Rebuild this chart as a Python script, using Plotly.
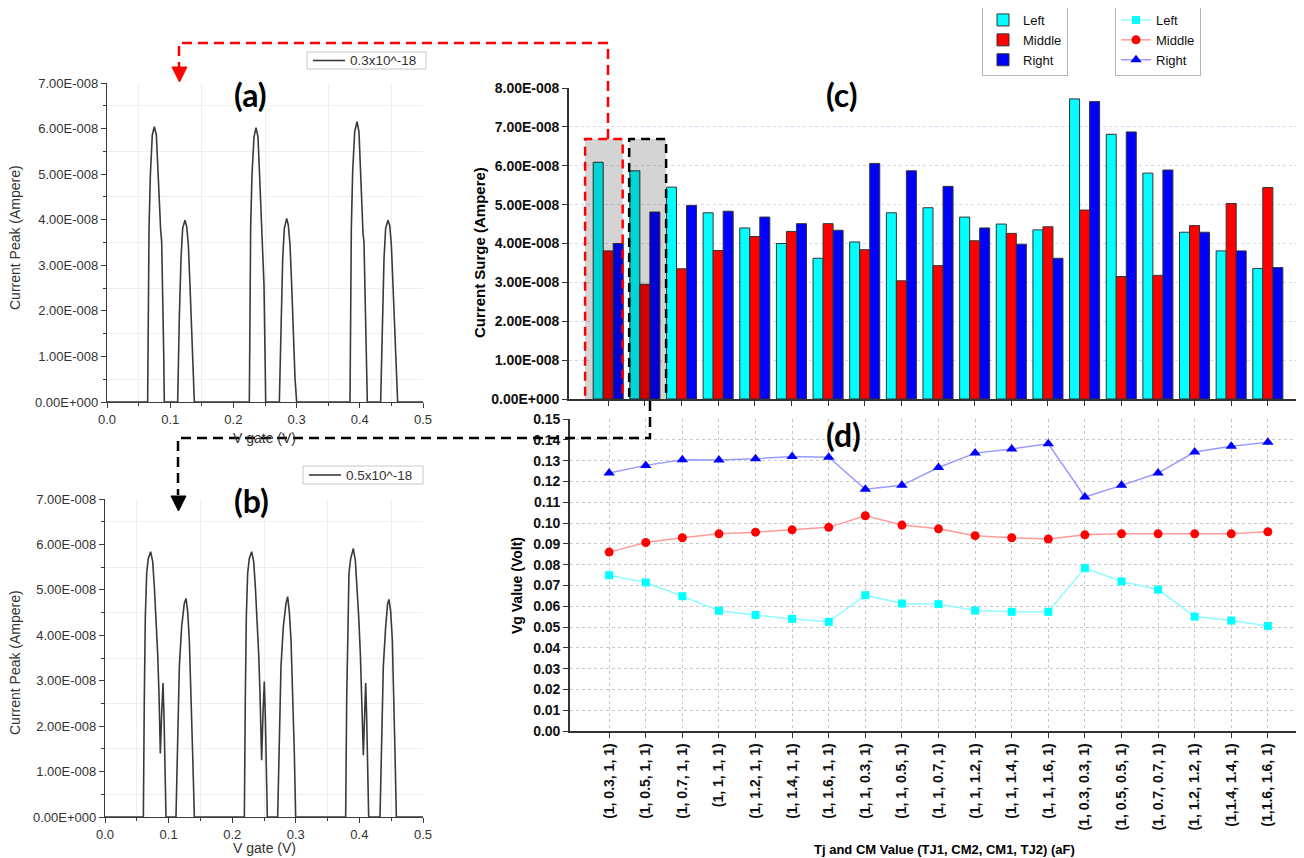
import plotly.graph_objects as go
import numpy as np

# the page body has an 8px margin; the figure is sized/placed so that it fills the 1304x858 window
OFF = 8
W, H = 1304 - OFF, 858 - OFF
def px(x): return (x - OFF) / W
def py(y): return 1 - (y - OFF) / H

# ---------------- data ----------------
# panel (a): V gate (V) vs current (units of 1e-8 A), TJ = 0.3x10^-18
a_vgate = [0.0, 0.0643, 0.0665, 0.0686, 0.0717, 0.0749, 0.0781, 0.0802, 0.0823, 0.0849, 0.0865, 0.0881, 0.0897, 0.0907,
           0.1118, 0.1144, 0.1171, 0.1197, 0.1234, 0.1261, 0.1287, 0.1313, 0.1340, 0.1366, 0.1382,
           0.2252, 0.2273, 0.2294, 0.2326, 0.2358, 0.2389, 0.2410, 0.2431, 0.2453, 0.2468, 0.2484, 0.2500, 0.2511,
           0.2727, 0.2753, 0.2780, 0.2806, 0.2843, 0.2869, 0.2896, 0.2922, 0.2948, 0.2975, 0.3001,
           0.3845, 0.3866, 0.3887, 0.3919, 0.3956, 0.3987, 0.4008, 0.4030, 0.4051, 0.4066, 0.4082, 0.4098, 0.4119,
           0.4330, 0.4357, 0.4383, 0.4409, 0.4446, 0.4473, 0.4499, 0.4525, 0.4552, 0.4578, 0.4599,
           0.5]
a_current_e8 = [0, 0, 3.81, 4.98, 5.86, 6.04, 5.86, 5.13, 4.40, 3.77, 3.52, 2.57, 1.10, 0,
                0, 1.84, 3.15, 3.81, 3.99, 3.85, 3.45, 2.57, 1.47, 0.52, 0,
                0, 3.81, 4.98, 5.82, 6.02, 5.82, 5.13, 4.40, 3.74, 3.52, 2.57, 1.10, 0,
                0, 1.84, 3.15, 3.81, 4.03, 3.88, 3.45, 2.57, 1.47, 0.52, 0,
                0, 3.81, 5.05, 5.93, 6.15, 5.93, 5.13, 4.40, 3.70, 3.52, 2.57, 1.10, 0,
                0, 1.84, 3.15, 3.81, 3.99, 3.88, 3.45, 2.57, 1.47, 0.52, 0,
                0]
a_label = "0.3x10^-18"

# panel (b): TJ = 0.5x10^-18
b_vgate = [0.0, 0.0603, 0.0618, 0.0634, 0.0655, 0.0681, 0.0718, 0.0750, 0.0776, 0.0802, 0.0828, 0.0849, 0.0870, 0.0891, 0.0912, 0.0928, 0.0943, 0.0959,
           0.1116, 0.1143, 0.1169, 0.1205, 0.1247, 0.1274, 0.1300, 0.1326, 0.1352, 0.1378, 0.1405,
           0.2191, 0.2206, 0.2222, 0.2243, 0.2269, 0.2306, 0.2338, 0.2364, 0.2390, 0.2416, 0.2437, 0.2463, 0.2484, 0.2505, 0.2521, 0.2537, 0.2552,
           0.2715, 0.2741, 0.2767, 0.2804, 0.2846, 0.2872, 0.2898, 0.2925, 0.2951, 0.2977, 0.2998,
           0.3784, 0.3800, 0.3816, 0.3836, 0.3863, 0.3905, 0.3936, 0.3962, 0.3989, 0.4015, 0.4036, 0.4062, 0.4083, 0.4099, 0.4114, 0.4130, 0.4146,
           0.4324, 0.4350, 0.4376, 0.4413, 0.4444, 0.4465, 0.4492, 0.4518, 0.4539, 0.4560, 0.4581,
           0.5]
b_current_e8 = [0, 0, 2.57, 4.41, 5.36, 5.69, 5.84, 5.62, 5.07, 4.41, 3.60, 2.72, 1.40, 2.28, 2.95, 2.20, 0.96, 0,
                0, 1.84, 3.31, 4.19, 4.70, 4.81, 4.52, 3.89, 2.86, 1.40, 0,
                0, 2.57, 4.41, 5.36, 5.69, 5.84, 5.62, 5.07, 4.41, 3.60, 2.72, 1.25, 2.28, 2.98, 2.20, 0.96, 0,
                0, 1.84, 3.31, 4.19, 4.70, 4.85, 4.52, 3.89, 2.86, 1.40, 0,
                0, 2.57, 4.41, 5.36, 5.69, 5.91, 5.65, 5.07, 4.41, 3.60, 2.72, 1.36, 2.28, 2.95, 2.20, 0.96, 0,
                0, 1.84, 3.31, 4.19, 4.70, 4.79, 4.52, 3.89, 2.86, 1.40, 0,
                0]
b_label = "0.5x10^-18"

# panels (c) and (d)
categories = ["(1, 0.3, 1, 1)", "(1, 0.5, 1, 1)", "(1, 0.7, 1, 1)", "(1, 1, 1, 1)", "(1, 1.2, 1, 1)",
              "(1, 1.4, 1, 1)", "(1, 1.6, 1, 1)", "(1, 1, 0.3, 1)", "(1, 1, 0.5, 1)", "(1, 1, 0.7, 1)",
              "(1, 1, 1.2, 1)", "(1, 1, 1.4, 1)", "(1, 1, 1.6, 1)", "(1, 0.3, 0.3, 1)", "(1, 0.5, 0.5, 1)",
              "(1, 0.7, 0.7, 1)", "(1, 1.2, 1.2, 1)", "(1,1.4, 1.4, 1)", "(1,1.6, 1.6, 1)"]
surge_left_e8 = [6.09, 5.87, 5.45, 4.79, 4.40, 4.00, 3.62, 4.04, 4.79, 4.92, 4.68, 4.50, 4.35, 7.72, 6.81, 5.81, 4.29, 3.81, 3.36]
surge_middle_e8 = [3.81, 2.95, 3.35, 3.82, 4.18, 4.31, 4.51, 3.84, 3.04, 3.43, 4.07, 4.26, 4.43, 4.86, 3.15, 3.18, 4.46, 5.03, 5.44]
surge_right_e8 = [4.00, 4.81, 4.98, 4.83, 4.68, 4.51, 4.34, 6.06, 5.87, 5.47, 4.40, 3.98, 3.62, 7.65, 6.87, 5.89, 4.29, 3.81, 3.38]

vg_left = [0.0749, 0.0714, 0.0648, 0.0578, 0.0558, 0.0539, 0.0525, 0.0653, 0.0613, 0.0610, 0.0579, 0.0573, 0.0573, 0.0783, 0.0719, 0.0680, 0.0550, 0.0531, 0.0505]
vg_middle = [0.0860, 0.0906, 0.0929, 0.0948, 0.0956, 0.0967, 0.0979, 0.1035, 0.0990, 0.0972, 0.0939, 0.0929, 0.0923, 0.0943, 0.0948, 0.0948, 0.0948, 0.0948, 0.0958]
vg_right = [0.1240, 0.1277, 0.1304, 0.1303, 0.1309, 0.1320, 0.1316, 0.1162, 0.1181, 0.1267, 0.1336, 0.1356, 0.1381, 0.1125, 0.1181, 0.1240, 0.1341, 0.1369, 0.1388]

peak_ticks = [0, 1e-8, 2e-8, 3e-8, 4e-8, 5e-8, 6e-8, 7e-8]
peak_ticktext = ["0.00E+000", "1.00E-008", "2.00E-008", "3.00E-008", "4.00E-008", "5.00E-008", "6.00E-008", "7.00E-008"]
surge_ticks = [0, 1e-8, 2e-8, 3e-8, 4e-8, 5e-8, 6e-8, 7e-8, 8e-8]
surge_ticktext = ["0.00E+000", "1.00E-008", "2.00E-008", "3.00E-008", "4.00E-008", "5.00E-008", "6.00E-008", "7.00E-008", "8.00E-008"]

E8 = 1e-8
FONT = "Liberation Sans, Arial, sans-serif"
CURVE = "#3a3a3a"

fig = go.Figure()

# (a) and (b)
fig.add_trace(go.Scatter(x=a_vgate, y=np.array(a_current_e8) * E8, mode="lines", name=a_label, showlegend=False,
                         line=dict(color=CURVE, width=1.6), xaxis="x", yaxis="y"))
fig.add_trace(go.Scatter(x=b_vgate, y=np.array(b_current_e8) * E8, mode="lines", name=b_label, showlegend=False,
                         line=dict(color=CURVE, width=1.6), xaxis="x2", yaxis="y2"))

# (c) bars
bar_line = dict(color="#333333", width=1)
fig.add_trace(go.Bar(x=categories, y=np.array(surge_left_e8) * E8, name="Left", marker=dict(color="#00ffff", line=bar_line),
                     xaxis="x3", yaxis="y3", legend="legend"))
fig.add_trace(go.Bar(x=categories, y=np.array(surge_middle_e8) * E8, name="Middle", marker=dict(color="#ff0000", line=bar_line),
                     xaxis="x3", yaxis="y3", legend="legend"))
fig.add_trace(go.Bar(x=categories, y=np.array(surge_right_e8) * E8, name="Right", marker=dict(color="#0000ff", line=bar_line),
                     xaxis="x3", yaxis="y3", legend="legend"))

# (d) lines
fig.add_trace(go.Scatter(x=categories, y=vg_left, mode="lines+markers", name="Left",
                         line=dict(color="#8ffcff", width=1.5), marker=dict(symbol="square", size=8, color="#00ffff"),
                         xaxis="x4", yaxis="y4", legend="legend2"))
fig.add_trace(go.Scatter(x=categories, y=vg_middle, mode="lines+markers", name="Middle",
                         line=dict(color="#ff9a9a", width=1.5), marker=dict(symbol="circle", size=9, color="#ff0000"),
                         xaxis="x4", yaxis="y4", legend="legend2"))
fig.add_trace(go.Scatter(x=categories, y=vg_right, mode="lines+markers", name="Right",
                         line=dict(color="#9a9aff", width=1.5), marker=dict(symbol="triangle-up", size=10, color="#0000ff"),
                         xaxis="x4", yaxis="y4", legend="legend2"))

axis_ab = dict(showline=True, linecolor="#3a3a3a", linewidth=1.3, ticks="outside", ticklen=5, tickcolor="#3a3a3a",
               zeroline=False, showgrid=False, automargin=False, tickfont=dict(family=FONT, size=13, color="#333333"))
minor_x = dict(tickvals=[0.05, 0.15, 0.25, 0.35, 0.45], ticks="outside", ticklen=3, showgrid=True, gridcolor="#eeeeee")
minor_y = dict(tickvals=[0.5e-8, 1.5e-8, 2.5e-8, 3.5e-8, 4.5e-8, 5.5e-8, 6.5e-8], ticks="outside", ticklen=3,
               showgrid=True, gridcolor="#eeeeee")
xr = [-1.07, 18.96]
bold14 = dict(family=FONT, size=14, weight="bold", color="#111")

fig.update_layout(
    width=W, height=H, margin=dict(l=0, r=0, t=0, b=0, autoexpand=False),
    paper_bgcolor="white", plot_bgcolor="white",
    barmode="group", bargap=0.18, bargroupgap=0,
    font=dict(family=FONT, color="#000"),
    xaxis=dict(domain=[px(107), px(423)], anchor="y", range=[0, 0.5], tickmode="linear", tick0=0, dtick=0.1, tickformat=".1f",
               minor=minor_x, **axis_ab),
    yaxis=dict(domain=[py(402), py(83)], anchor="x", range=[0, 7e-8], tickvals=peak_ticks, ticktext=peak_ticktext,
               minor=minor_y, **axis_ab),
    xaxis2=dict(domain=[px(105), px(423)], anchor="y2", range=[0, 0.5], tickmode="linear", tick0=0, dtick=0.1, tickformat=".1f",
                minor=minor_x, **axis_ab),
    yaxis2=dict(domain=[py(817), py(499)], anchor="x2", range=[0, 7e-8], tickvals=peak_ticks, ticktext=peak_ticktext,
                minor=minor_y, **axis_ab),
    xaxis3=dict(domain=[px(569), px(1303)], anchor="y3", type="category", categoryorder="array", categoryarray=categories,
                range=xr, showticklabels=False, ticks="outside", ticklen=5, tickcolor="#333", automargin=False,
                showline=True, linecolor="#333", linewidth=1.6, showgrid=False, zeroline=False),
    yaxis3=dict(domain=[py(399), py(88)], anchor="x3", range=[0, 8e-8], tickvals=surge_ticks, ticktext=surge_ticktext,
                tickfont=bold14, automargin=False,
                ticks="outside", ticklen=5, tickcolor="#333", showline=True, linecolor="#333", linewidth=1.6,
                showgrid=True, gridcolor="#d6d6f2", griddash="dot", gridwidth=1.2, zeroline=False),
    xaxis4=dict(domain=[px(570), px(1303)], anchor="y4", type="category", categoryorder="array", categoryarray=categories,
                range=xr, tickangle=-90, tickfont=bold14, automargin=False,
                ticks="outside", ticklen=5, tickcolor="#333", showline=True, linecolor="#333", linewidth=1.6,
                showgrid=True, gridcolor="#c8c8c8", griddash="dot", zeroline=False),
    yaxis4=dict(domain=[py(731), py(419)], anchor="x4", range=[0, 0.15], tickmode="linear", tick0=0, dtick=0.01, tickformat=".2f",
                tickfont=bold14, automargin=False,
                ticks="outside", ticklen=5, tickcolor="#333", showline=True, linecolor="#333", linewidth=1.6,
                showgrid=True, gridcolor="#c8c8c8", griddash="dot", zeroline=False),
    legend=dict(x=px(982), y=py(4), xanchor="left", yanchor="top", bgcolor="white", bordercolor="#b5b5b5", borderwidth=1,
                font=dict(family=FONT, size=13, color="#111"), tracegroupgap=0, itemwidth=30),
    legend2=dict(x=px(1115), y=py(4), xanchor="left", yanchor="top", bgcolor="white", bordercolor="#b5b5b5", borderwidth=1,
                 font=dict(family=FONT, size=13, color="#111"), itemwidth=30),
)

# highlighted groups in (c)
fig.add_shape(type="rect", xref="x3", yref="y3", x0=-0.63, x1=0.395, y0=-0.05e-8, y1=6.69e-8,
              fillcolor="rgba(0,0,0,0.17)", line=dict(color="#ff0000", width=2.5, dash="9px,6px"), layer="above")
fig.add_shape(type="rect", xref="x3", yref="y3", x0=0.572, x1=1.58, y0=-0.05e-8, y1=6.69e-8,
              fillcolor="rgba(0,0,0,0.17)", line=dict(color="#000000", width=2.5, dash="9px,6px"), layer="above")

def path(pts, close=False):
    s = "M " + " L ".join(f"{px(x):.5f},{py(y):.5f}" for x, y in pts)
    return s + (" Z" if close else "")

# connectors
fig.add_shape(type="path", xref="paper", yref="paper", path=path([(608, 139), (608, 43), (179, 43), (179, 68)]),
              line=dict(color="#ff0000", width=2.5, dash="10px,6px"))
fig.add_shape(type="path", xref="paper", yref="paper", path=path([(172, 67), (187, 67), (179.5, 82)], True),
              fillcolor="#ff0000", line=dict(color="#ff0000", width=1))
fig.add_shape(type="path", xref="paper", yref="paper", path=path([(650, 401), (650, 438), (178, 438), (178, 495)]),
              line=dict(color="#000000", width=2.5, dash="10px,6px"))
fig.add_shape(type="path", xref="paper", yref="paper", path=path([(171, 496), (186, 496), (178.5, 511)], True),
              fillcolor="#000000", line=dict(color="#000000", width=1))

# annotations
def ann(text, x, y, size, bold=False, angle=0, color="#000", family=FONT, xanchor="center"):
    fig.add_annotation(text=text, x=px(x), y=py(y), xref="paper", yref="paper", showarrow=False,
                       xanchor=xanchor, yanchor="middle", textangle=angle,
                       font=dict(family=family, size=size, color=color, weight="bold" if bold else "normal"))

# small legends of (a) and (b)
for (x0, y0, x1, y1), label in [((307, 52, 426, 69), a_label), ((303, 466, 423, 484), b_label)]:
    fig.add_shape(type="rect", xref="paper", yref="paper", x0=px(x0), x1=px(x1), y0=py(y1), y1=py(y0),
                  fillcolor="white", line=dict(color="#c8c8c8", width=1))
    ym = (y0 + y1) / 2
    fig.add_shape(type="line", xref="paper", yref="paper", x0=px(x0 + 6), x1=px(x0 + 38), y0=py(ym), y1=py(ym),
                  line=dict(color=CURVE, width=1.6))
    ann(label, x0 + 41, ym, 13.5, color="#333", xanchor="left")

PANEL_FONT = "Lato, Open Sans, sans-serif"
ann("(a)", 250, 94, 32, bold=True, family=PANEL_FONT)
ann("(b)", 251, 500, 32, bold=True, family=PANEL_FONT)
ann("(c)", 842, 95, 32, bold=True, family=PANEL_FONT)
ann("(d)", 843, 434, 32, bold=True, family=PANEL_FONT)
ann("V gate (V)", 264, 438, 14, color="#333")
ann("V gate (V)", 264, 848, 14, color="#333")
ann("Current Peak (Ampere)", 15, 238, 14, angle=-90, color="#333")
ann("Current Peak (Ampere)", 15, 663, 14, angle=-90, color="#333")
ann("Current Surge (Ampere)", 480, 253, 15, bold=True, angle=-90)
ann("Vg Value (Volt)", 517, 586, 14, bold=True, angle=-90)
ann("Tj and CM Value (TJ1, CM2, CM1, TJ2) (aF)", 944, 849, 13, bold=True)

fig.write_html("out.html")
